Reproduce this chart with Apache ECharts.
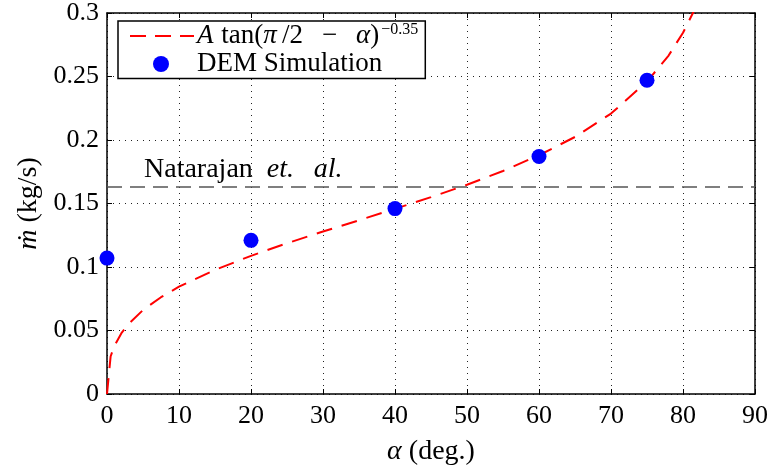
<!DOCTYPE html>
<html>
<head>
<meta charset="utf-8">
<script src="https://cdn.jsdelivr.net/npm/echarts@6/dist/echarts.min.js"></script>
<style>html,body{margin:0;padding:0;background:#fff}#c{width:771px;height:471px}</style>
</head>
<body>
<div id="c"></div>
<script>
// Fitted curve A tan(pi/2 - alpha)^-0.35
var fitAlpha = [0, 0.5, 1, 2, 3, 5, 7.5, 10, 15, 20, 25, 30, 35, 40, 45, 50, 55, 60, 65, 70, 75, 78, 80, 81.5];
var fitMdot  = [0, 0.0295, 0.0376, 0.0479, 0.0552, 0.0661, 0.0762, 0.0845, 0.0977, 0.1088, 0.1187, 0.1279, 0.1368, 0.1458, 0.155, 0.1648, 0.1756, 0.188, 0.2024, 0.2208, 0.246, 0.2665, 0.2845, 0.3014];
// DEM simulation points
var demAlpha = [0, 20, 40, 60, 75];
var demMdot  = [0.107, 0.121, 0.146, 0.187, 0.247];
// Natarajan et al. reference level
var natarajanMdot = 0.163;
var xTicks = [0, 10, 20, 30, 40, 50, 60, 70, 80, 90];
var yTicks = [0, 0.05, 0.1, 0.15, 0.2, 0.25, 0.3];

var FONT = "'Liberation Serif', 'DejaVu Serif', serif";
var chart = echarts.init(document.getElementById('c'), null, {renderer: 'canvas'});

function zip(a, b) { return a.map(function (v, i) { return [v, b[i]]; }); }

var gridLine = {show: true, lineStyle: {color: '#222', width: 1, type: [1, 5]}};
var option = {
  backgroundColor: '#fff',
  animation: false,
  grid: {left: 107, right: 16, top: 9, bottom: 74, containLabel: false},
  legend: {
    left: 118, top: 21,
    orient: 'vertical',
    backgroundColor: '#fff',
    borderColor: '#000', borderWidth: 1.5, borderRadius: 0,
    padding: [1, 7, 1, 12],
    itemGap: 1,
    itemWidth: 62, itemHeight: 16,
    textStyle: {fontFamily: FONT, fontSize: 27, color: '#000',
      rich: {
        it: {fontFamily: FONT, fontStyle: 'italic', fontSize: 27, color: '#000'},
        n: {fontFamily: FONT, fontSize: 27, color: '#000'},
        sup: {fontFamily: FONT, fontSize: 16, color: '#000', verticalAlign: 'top', padding: [0, 0, 12, 2]}
      }
    },
    formatter: function (name) {
      if (name === 'fit') return '{it|A}{n|\u2009\u200atan(}{it|π}{n|\u2009/2\u2002\u2009−\u2002\u2009}{it|α}{n|)}{sup|−0.35}';
      return '{n|DEM Simulation}';
    },
    data: [
      {name: 'fit', icon: 'path://M0,0 L20,0 L20,3 L0,3 Z M0,0', itemStyle: {color: 'transparent'}},
      {name: 'dem', icon: 'circle'}
    ]
  },
  xAxis: [{
    type: 'value', min: 0, max: 90, interval: 10,
    axisLine: {show: true, onZero: false, lineStyle: {color: '#000', width: 1.5}},
    axisTick: {show: true, inside: true, length: 5, lineStyle: {color: '#000'}},
    axisLabel: {fontFamily: FONT, fontSize: 26, color: '#000', margin: 9},
    splitLine: gridLine,
    name: '{it|α} (deg.)', nameLocation: 'middle', nameGap: 44,
    nameTextStyle: {fontFamily: FONT, fontSize: 28, color: '#000',
      rich: {it: {fontFamily: FONT, fontStyle: 'italic', fontSize: 28, color: '#000'}}}
  }, {
    type: 'value', min: 0, max: 90, interval: 10, position: 'top',
    axisLine: {show: true, onZero: false, lineStyle: {color: '#000', width: 1.5}},
    axisTick: {show: true, inside: true, length: 5, lineStyle: {color: '#000'}},
    axisLabel: {show: false}, splitLine: {show: false}
  }],
  yAxis: [{
    type: 'value', min: 0, max: 0.3, interval: 0.05,
    axisLine: {show: true, onZero: false, lineStyle: {color: '#000', width: 1.5}},
    axisTick: {show: true, inside: true, length: 5, lineStyle: {color: '#000'}},
    axisLabel: {fontFamily: FONT, fontSize: 26, color: '#000', margin: 8,
      formatter: function (v) { return String(+v.toFixed(2)); }},
    splitLine: gridLine,
    name: '{it|ṁ} (kg/s)', nameLocation: 'middle', nameGap: 62, nameRotate: 90,
    nameTextStyle: {fontFamily: FONT, fontSize: 28, color: '#000',
      rich: {it: {fontFamily: FONT, fontStyle: 'italic', fontSize: 28, color: '#000'}}}
  }, {
    type: 'value', min: 0, max: 0.3, interval: 0.05, position: 'right',
    axisLine: {show: true, onZero: false, lineStyle: {color: '#000', width: 1.5}},
    axisTick: {show: true, inside: true, length: 5, lineStyle: {color: '#000'}},
    axisLabel: {show: false}, splitLine: {show: false}
  }],
  series: [{
    name: 'natarajan', type: 'line',
    data: [[0, natarajanMdot], [90, natarajanMdot]],
    symbol: 'none', silent: true,
    lineStyle: {color: '#555', width: 1.5, type: [15, 8]},
    z: 2
  }, {
    name: 'fit', type: 'line',
    data: zip(fitAlpha, fitMdot),
    symbol: 'none', smooth: false,
    lineStyle: {color: '#ff0000', width: 2, type: [16, 10]},
    itemStyle: {color: '#ff0000'},
    z: 3
  }, {
    name: 'dem', type: 'scatter',
    data: zip(demAlpha, demMdot),
    symbol: 'circle', symbolSize: 15,
    itemStyle: {color: '#0000ff', opacity: 1},
    z: 4
  }],
  graphic: []
};
chart.setOption(option);

// Natarajan label positioned through the axis scales
var p = chart.convertToPixel({xAxisIndex: 0, yAxisIndex: 0}, [5, natarajanMdot]);
chart.setOption({graphic: [{
  type: 'text', left: p[0] + 1, top: p[1] - 31, z: 10,
  style: {
    text: '{n|Natarajan\u2002}{it|et.\u2002\u2009al.}',
    rich: {
      n: {fontFamily: FONT, fontSize: 28, fill: '#000'},
      it: {fontFamily: FONT, fontSize: 28, fontStyle: 'italic', fill: '#000'}
    }
  }
}, {
  // dashed red sample for legend
  type: 'line', z: 20,
  shape: {x1: 130, y1: 36, x2: 194, y2: 36},
  style: {stroke: '#ff0000', lineWidth: 2, lineDash: [16, 9]}
}]});
</script>
</body>
</html>
